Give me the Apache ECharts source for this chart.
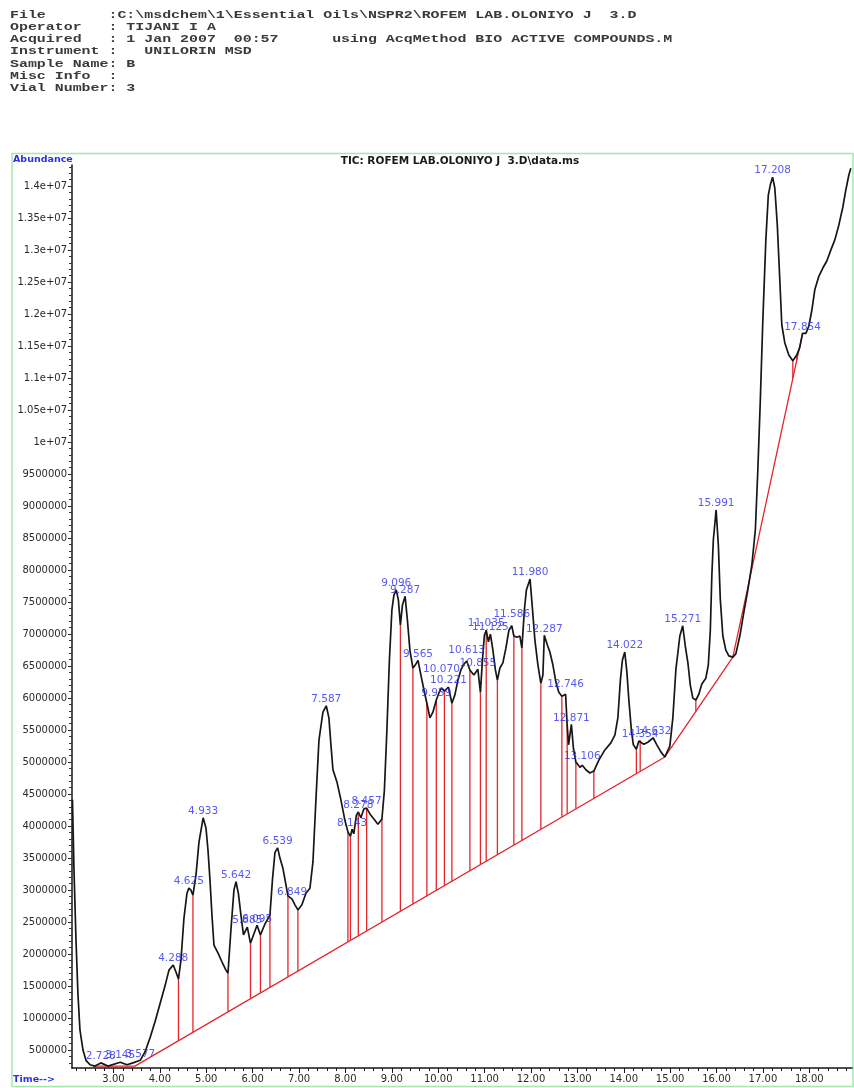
<!DOCTYPE html>
<html>
<head>
<meta charset="utf-8">
<title>TIC: ROFEM LAB.OLONIYO J 3.D</title>
<script src="https://cdn.jsdelivr.net/npm/echarts@6/dist/echarts.min.js"></script>
<style>
  html, body { margin: 0; padding: 0; background: #ffffff; }
  #chart { width: 854px; height: 1088px; }
</style>
</head>
<body>
<div id="chart"></div>
<script>
// ---- Data -----------------------------------------------------------------
// Total ion chromatogram: [retention time (min), abundance]
const ticTrace = [
  [2.116, 4410000], [2.149, 3310000], [2.192, 2220000], [2.235, 1360000], [2.278, 810000],
  [2.343, 500000], [2.407, 340000], [2.494, 270000], [2.601, 250000], [2.728, 300000],
  [2.881, 250000], [3.145, 310000], [3.291, 270000], [3.420, 300000], [3.577, 340000],
  [3.679, 470000], [3.787, 690000], [3.894, 940000], [4.002, 1220000], [4.110, 1500000],
  [4.196, 1750000], [4.288, 1830000], [4.347, 1720000], [4.401, 1610000], [4.455, 1910000],
  [4.519, 2560000], [4.584, 2950000], [4.625, 3030000], [4.670, 3000000], [4.713, 2920000],
  [4.778, 3230000], [4.843, 3750000], [4.933, 4130000], [4.994, 3970000], [5.037, 3630000],
  [5.080, 3160000], [5.123, 2610000], [5.166, 2140000], [5.252, 2020000], [5.338, 1880000],
  [5.425, 1750000], [5.468, 1700000], [5.532, 2380000], [5.597, 3000000], [5.642, 3130000],
  [5.694, 2940000], [5.748, 2610000], [5.802, 2300000], [5.885, 2420000], [5.953, 2170000],
  [6.095, 2450000], [6.168, 2300000], [6.265, 2470000], [6.373, 2610000], [6.427, 3160000],
  [6.481, 3590000], [6.539, 3660000], [6.588, 3500000], [6.653, 3340000], [6.718, 3080000],
  [6.761, 2910000], [6.849, 2860000], [6.912, 2770000], [6.976, 2690000], [7.062, 2770000],
  [7.149, 2950000], [7.235, 3030000], [7.300, 3440000], [7.364, 4410000], [7.429, 5340000],
  [7.515, 5780000], [7.587, 5880000], [7.644, 5690000], [7.688, 5270000], [7.731, 4880000],
  [7.817, 4690000], [7.903, 4410000], [7.989, 4090000], [8.054, 3910000], [8.108, 3840000],
  [8.143, 3950000], [8.180, 3880000], [8.237, 4170000], [8.278, 4220000], [8.334, 4130000],
  [8.399, 4270000], [8.457, 4280000], [8.528, 4190000], [8.614, 4110000], [8.700, 4030000],
  [8.787, 4110000], [8.840, 4560000], [8.894, 5500000], [8.948, 6590000], [9.002, 7380000],
  [9.045, 7610000], [9.096, 7690000], [9.142, 7530000], [9.185, 7140000], [9.228, 7450000],
  [9.287, 7590000], [9.336, 7220000], [9.390, 6750000], [9.455, 6470000], [9.509, 6520000],
  [9.565, 6590000], [9.627, 6360000], [9.692, 6130000], [9.756, 5920000], [9.821, 5690000],
  [9.886, 5780000], [9.959, 5970000], [10.015, 6080000], [10.070, 6160000], [10.134, 6110000],
  [10.221, 6170000], [10.295, 5920000], [10.360, 6050000], [10.425, 6280000], [10.489, 6440000],
  [10.554, 6530000], [10.613, 6580000], [10.683, 6440000], [10.769, 6360000], [10.855, 6450000],
  [10.910, 6090000], [10.953, 6590000], [10.996, 6980000], [11.035, 7060000], [11.082, 6880000],
  [11.125, 7000000], [11.179, 6750000], [11.233, 6440000], [11.276, 6280000], [11.330, 6470000],
  [11.394, 6550000], [11.459, 6780000], [11.524, 7060000], [11.586, 7130000], [11.631, 6970000],
  [11.696, 6950000], [11.761, 6970000], [11.804, 6780000], [11.858, 7380000], [11.901, 7690000],
  [11.980, 7860000], [12.030, 7410000], [12.084, 6910000], [12.149, 6520000], [12.213, 6230000],
  [12.257, 6360000], [12.287, 6980000], [12.353, 6830000], [12.407, 6720000], [12.472, 6520000],
  [12.537, 6250000], [12.600, 6090000], [12.666, 6030000], [12.746, 6060000], [12.780, 5580000],
  [12.810, 5270000], [12.871, 5590000], [12.914, 5220000], [12.968, 5000000], [13.054, 4920000],
  [13.106, 4950000], [13.183, 4880000], [13.270, 4830000], [13.355, 4860000], [13.463, 5030000],
  [13.593, 5190000], [13.722, 5300000], [13.808, 5420000], [13.873, 5690000], [13.927, 6280000],
  [13.970, 6590000], [14.022, 6720000], [14.067, 6410000], [14.110, 5970000], [14.164, 5500000],
  [14.207, 5270000], [14.272, 5200000], [14.325, 5330000], [14.354, 5340000], [14.433, 5280000],
  [14.519, 5310000], [14.632, 5380000], [14.713, 5270000], [14.800, 5160000], [14.886, 5080000],
  [14.993, 5250000], [15.058, 5690000], [15.123, 6440000], [15.209, 6970000], [15.271, 7130000],
  [15.327, 6810000], [15.381, 6560000], [15.435, 6200000], [15.489, 6000000], [15.554, 5970000],
  [15.618, 6060000], [15.683, 6220000], [15.769, 6310000], [15.823, 6520000], [15.866, 7060000],
  [15.899, 7920000], [15.931, 8470000], [15.991, 8940000], [16.039, 8390000], [16.082, 7530000],
  [16.136, 6970000], [16.200, 6750000], [16.265, 6660000], [16.351, 6640000], [16.416, 6690000],
  [16.502, 6970000], [16.588, 7340000], [16.675, 7690000], [16.761, 8080000], [16.837, 8630000],
  [16.890, 9560000], [16.944, 10660000], [16.998, 11910000], [17.063, 13160000], [17.116, 13860000],
  [17.160, 14020000], [17.208, 14140000], [17.256, 13970000], [17.310, 13390000], [17.364, 12530000],
  [17.407, 11830000], [17.472, 11550000], [17.558, 11360000], [17.644, 11270000], [17.730, 11360000],
  [17.794, 11480000], [17.854, 11700000], [17.925, 11700000], [17.989, 11810000], [18.054, 12060000],
  [18.118, 12380000], [18.205, 12590000], [18.291, 12720000], [18.377, 12830000], [18.463, 13000000],
  [18.550, 13160000], [18.636, 13390000], [18.722, 13670000], [18.787, 13940000], [18.851, 14170000],
  [18.894, 14280000]
];

// Integrated peak apex retention times (as printed)
const peakLabels = [
  '2.728', '3.145', '3.577', '4.288', '4.625', '4.933', '5.642', '5.885', '6.095', '6.539',
  '6.849', '7.587', '8.143', '8.278', '8.457', '9.096', '9.287', '9.565', '9.959', '10.070',
  '10.221', '10.613', '10.855', '11.035', '11.125', '11.586', '11.980', '12.287', '12.746',
  '12.871', '13.106', '14.022', '14.354', '14.632', '15.271', '15.991', '17.208', '17.854'
];

// Integration boundaries (drop lines down to the baseline)
const dropTimes = [
  4.401, 4.713, 5.468, 5.953, 6.168, 6.373, 6.761, 6.976, 8.054, 8.108, 8.278, 8.457,
  8.787, 9.185, 9.455, 9.756, 9.959, 10.134, 10.295, 10.683, 10.910, 11.035, 11.276,
  11.631, 11.804, 12.213, 12.666, 12.780, 12.968, 13.355, 14.272, 14.354, 15.554,
  17.644, 17.730
];

// Integration baseline vertices: [retention time, abundance]
const integrationBaseline = [
  [2.558, 250000], [3.463, 250000], [14.886, 5080000], [16.351, 6640000], [17.854, 11700000]
];

// Axis ticks
const timeTicks = [3, 4, 5, 6, 7, 8, 9, 10, 11, 12, 13, 14, 15, 16, 17, 18];
const abundanceTicks = [];
for (let v = 500000; v <= 14000000; v += 500000) abundanceTicks.push(v);

const headerLines = [
  'File       :C:\\msdchem\\1\\Essential Oils\\NSPR2\\ROFEM LAB.OLONIYO J  3.D',
  'Operator   : TIJANI I A',
  'Acquired   : 1 Jan 2007  00:57      using AcqMethod BIO ACTIVE COMPOUNDS.M',
  'Instrument :   UNILORIN MSD',
  'Sample Name: B',
  'Misc Info  :',
  'Vial Number: 3'
];
const plotTitle = 'TIC: ROFEM LAB.OLONIYO J  3.D\\data.ms';

// ---- Styling ---------------------------------------------------------------
const RED = '#e4262c';
const BLUE = '#2a30ee';
const INK = '#161616';
const FRAME = '#a4e8ae';
const X_MIN = 2.106, X_MAX = 18.92;
const Y_MIN = 220000, Y_MAX = 14330000;
// extra lift for a few stacked peak labels (px)
const labelLift = { '10.070': 12, '10.613': 4, '11.586': 5, '12.746': 3, '13.106': 3 };

// ---- Helpers ---------------------------------------------------------------
function traceValueAt(t) {
  const p = ticTrace.find(d => Math.abs(d[0] - t) < 1e-6);
  return p ? p[1] : null;
}
function baselineAt(t) {
  for (let i = 0; i < integrationBaseline.length - 1; i++) {
    const a = integrationBaseline[i], b = integrationBaseline[i + 1];
    if (t >= a[0] && t <= b[0]) return a[1] + (b[1] - a[1]) * (t - a[0]) / (b[0] - a[0]);
  }
  return null;
}
function fmtAbundance(v) {
  if (v >= 1e7) {
    const m = Math.round(v / 1e5) / 100;
    return String(m) + 'e+07';
  }
  return String(v);
}

const xMinor = [];
for (let k = 11; k <= 94; k++) xMinor.push(k / 5);
const yMinor = [];
for (let v = 300000; v <= 14300000; v += 100000) yMinor.push(v);

const dropData = dropTimes.map(t => [t, traceValueAt(t), baselineAt(t)]);
const labelData = peakLabels.map(s => {
  const t = parseFloat(s);
  return {
    name: s,
    value: [t, traceValueAt(t)],
    label: { distance: 1 + (labelLift[s] || 0) }
  };
});

// ---- Chart -----------------------------------------------------------------
const chart = echarts.init(document.getElementById('chart'), null, { renderer: 'canvas', width: 854, height: 1088 });

// header block: wide monospaced report text
const headerGraphics = headerLines.map((line, i) => ({
  type: 'text',
  x: 10,
  y: 15 + i * 12.2,
  scaleX: 1.333,
  style: {
    text: line,
    font: 'bold 11.2px "Liberation Mono", "DejaVu Sans Mono", monospace',
    fill: '#3a3a3a',
    verticalAlign: 'middle'
  }
}));

chart.setOption({
  animation: false,
  backgroundColor: '#ffffff',
  grid: { left: 72, right: 2, top: 165, bottom: 20, containLabel: false },
  xAxis: [
    {
      type: 'value', min: X_MIN, max: X_MAX,
      axisLine: { onZero: false, lineStyle: { color: INK, width: 1.5 } },
      axisTick: { customValues: timeTicks, length: 5, lineStyle: { color: INK, width: 1 } },
      axisLabel: {
        customValues: timeTicks, formatter: v => v.toFixed(2), margin: 6,
        fontFamily: 'DejaVu Sans', fontSize: 10, color: '#2a2a2a'
      },
      splitLine: { show: false }
    },
    {
      type: 'value', min: X_MIN, max: X_MAX, position: 'bottom',
      axisLine: { show: false },
      axisTick: { customValues: xMinor, length: 3, lineStyle: { color: INK, width: 1 } },
      axisLabel: { show: false },
      splitLine: { show: false }
    }
  ],
  yAxis: [
    {
      type: 'value', min: Y_MIN, max: Y_MAX,
      axisLine: { show: true, onZero: false, lineStyle: { color: INK, width: 1.5 } },
      axisTick: { show: true, customValues: abundanceTicks, length: 4, lineStyle: { color: INK, width: 1 } },
      axisLabel: {
        customValues: abundanceTicks, formatter: fmtAbundance, margin: 5,
        fontFamily: 'DejaVu Sans', fontSize: 10, color: '#2a2a2a'
      },
      splitLine: { show: false }
    },
    {
      type: 'value', min: Y_MIN, max: Y_MAX, position: 'left',
      axisLine: { show: false },
      axisTick: { show: true, customValues: yMinor, length: 3, lineStyle: { color: '#333', width: 1 } },
      axisLabel: { show: false },
      splitLine: { show: false }
    }
  ],
  series: [
    {
      type: 'custom', name: 'drop lines', silent: true, z: 2,
      data: dropData,
      encode: { x: 0, y: [1, 2] },
      renderItem: (params, api) => {
        const t = api.value(0);
        const top = api.coord([t, api.value(1)]);
        const bot = api.coord([t, api.value(2)]);
        return {
          type: 'line',
          shape: { x1: top[0], y1: top[1], x2: bot[0], y2: bot[1] },
          style: { stroke: RED, lineWidth: 1.3 }
        };
      }
    },
    {
      type: 'line', name: 'baseline', data: integrationBaseline, z: 3,
      showSymbol: false, silent: true,
      lineStyle: { color: RED, width: 1.3 }
    },
    {
      type: 'line', name: 'TIC', data: ticTrace, z: 4,
      showSymbol: false, silent: true,
      lineStyle: { color: INK, width: 1.7 }
    },
    {
      type: 'scatter', name: 'peaks', data: labelData, z: 5,
      symbolSize: 0, silent: true,
      label: {
        show: true, position: 'top',
        formatter: p => p.name,
        fontFamily: 'DejaVu Sans', fontSize: 10.5, color: BLUE
      }
    }
  ],
  graphic: [
    {
      type: 'rect', z: -10, silent: true,
      shape: { x: 12, y: 153.5, width: 841, height: 933 },
      style: { fill: 'none', stroke: FRAME, lineWidth: 1.5 }
    },
    ...headerGraphics,
    {
      type: 'text', x: 460, y: 161,
      style: {
        text: plotTitle, font: 'bold 10.5px "DejaVu Sans"', fill: '#1a1a1a',
        align: 'center', verticalAlign: 'middle'
      }
    },
    {
      type: 'text', x: 13, y: 160,
      style: {
        text: 'Abundance', font: 'bold 9.5px "DejaVu Sans"', fill: BLUE,
        verticalAlign: 'middle'
      }
    },
    {
      type: 'text', x: 13, y: 1080,
      style: {
        text: 'Time-->', font: 'bold 9.5px "DejaVu Sans"', fill: BLUE,
        verticalAlign: 'middle'
      }
    }
  ]
});
</script>
</body>
</html>
